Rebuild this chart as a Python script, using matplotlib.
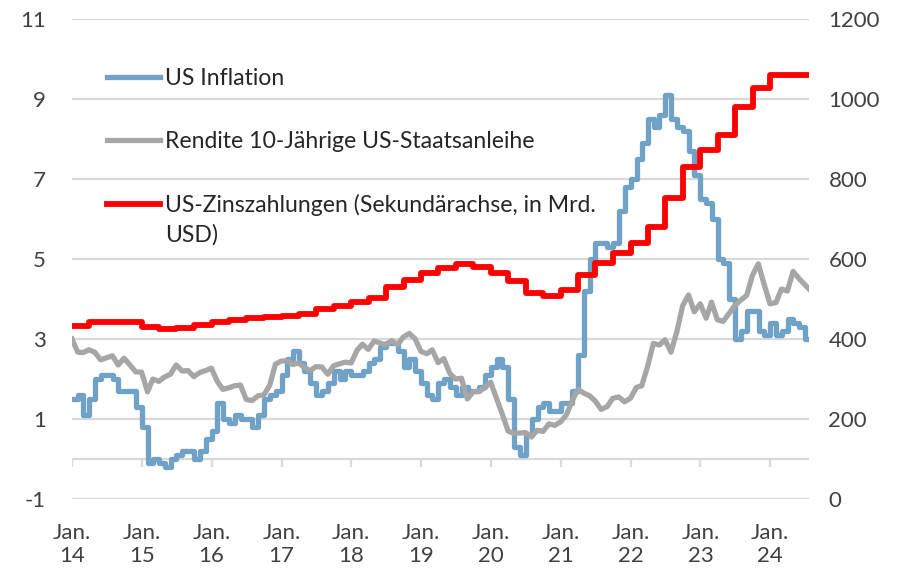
import numpy as np
import pandas as pd
import matplotlib
matplotlib.use("Agg")
import matplotlib.pyplot as plt

_TEXT = "#404040"
_GRID = "#d9d9d9"
_BLUE = "#6fa2c6"
_GRAY = "#a6a6a6"
_RED = "#ff0000"

plt.rcParams["font.family"] = ["Lato", "DejaVu Sans"]
plt.rcParams["axes.unicode_minus"] = False

# US-Inflation (% ggü. Vorjahr), monatlich, ab Jan. 2014 (Veröffentlichungsmonat)
inflation = [
    1.5, 1.6, 1.1, 1.5, 2.0, 2.1, 2.1, 2.0, 1.7, 1.7, 1.7, 1.3,
    0.8, -0.1, 0.0, -0.1, -0.2, 0.0, 0.1, 0.2, 0.2, 0.0, 0.2, 0.5,
    0.7, 1.4, 1.0, 0.9, 1.1, 1.0, 1.0, 0.8, 1.1, 1.5, 1.6, 1.7,
    2.1, 2.5, 2.7, 2.4, 2.2, 1.9, 1.6, 1.7, 1.9, 2.2, 2.0, 2.2,
    2.1, 2.1, 2.2, 2.4, 2.5, 2.8, 2.9, 2.9, 2.7, 2.3, 2.5, 2.2,
    1.9, 1.6, 1.5, 1.9, 2.0, 1.8, 1.6, 1.8, 1.7, 1.7, 1.8, 2.1,
    2.3, 2.5, 2.3, 1.5, 0.3, 0.1, 0.6, 1.0, 1.3, 1.4, 1.2, 1.2,
    1.4, 1.4, 1.7, 2.6, 4.2, 5.0, 5.4, 5.4, 5.3, 5.4, 6.2, 6.8,
    7.0, 7.5, 7.9, 8.5, 8.3, 8.6, 9.1, 8.5, 8.3, 8.2, 7.7, 7.1,
    6.5, 6.4, 6.0, 5.0, 4.9, 4.0, 3.0, 3.2, 3.7, 3.7, 3.2, 3.1,
    3.4, 3.1, 3.2, 3.5, 3.4, 3.3, 3.0,
]

# Rendite 10-jährige US-Staatsanleihe (%), Monatsende
yield10 = [
    3.00,
    2.67, 2.66, 2.73, 2.67, 2.48, 2.53, 2.58, 2.35, 2.52, 2.35, 2.18, 2.17,
    1.68, 2.00, 1.94, 2.05, 2.12, 2.35, 2.20, 2.21, 2.06, 2.16, 2.21, 2.27,
    1.94, 1.74, 1.78, 1.83, 1.85, 1.49, 1.46, 1.58, 1.60, 1.84, 2.37, 2.45,
    2.45, 2.36, 2.40, 2.29, 2.21, 2.31, 2.30, 2.12, 2.33, 2.38, 2.42, 2.40,
    2.72, 2.87, 2.74, 2.95, 2.90, 2.85, 2.96, 2.86, 3.05, 3.14, 3.01, 2.69,
    2.63, 2.73, 2.41, 2.51, 2.14, 2.00, 2.02, 1.50, 1.68, 1.69, 1.78, 1.92,
    1.51, 1.13, 0.70, 0.64, 0.65, 0.66, 0.55, 0.72, 0.69, 0.88, 0.84, 0.93,
    1.11, 1.44, 1.74, 1.65, 1.58, 1.45, 1.24, 1.31, 1.52, 1.55, 1.43, 1.52,
    1.79, 1.83, 2.32, 2.89, 2.85, 2.98, 2.67, 3.19, 3.83, 4.10, 3.68, 3.88,
    3.52, 3.92, 3.48, 3.44, 3.64, 3.84, 3.97, 4.09, 4.59, 4.88, 4.37, 3.88,
    3.91, 4.25, 4.20, 4.69, 4.51, 4.36, 4.25,
]

# US-Zinszahlungen (Mrd. USD, Sekundärachse), quartalsweise ab Q1 2014
interest = [
    432, 442, 442, 442,
    430, 425, 428, 434,
    443, 448, 452, 455,
    457, 462, 474, 482,
    492, 502, 530, 547,
    566, 577, 587, 579,
    564, 546, 516, 507,
    522, 560, 589, 614,
    639, 681, 752, 831,
    872, 910, 981, 1027,
    1060, 1060, 1060,
]

end_date = pd.Timestamp("2024-07-22")
infl_dates = list(pd.date_range("2014-01-01", periods=len(inflation), freq="MS")) + [end_date]
infl_vals = inflation + [inflation[-1]]
yld_dates = [pd.Timestamp("2014-01-01")] + list(pd.date_range("2014-01-31", periods=len(yield10) - 2, freq="ME")) + [end_date]
int_dates = list(pd.date_range("2014-01-01", periods=len(interest), freq="QS")) + [end_date]
int_vals = interest + [interest[-1]]

year_ticks = pd.date_range("2014-01-01", "2024-01-01", freq="YS")
year_labels = [f"Jan.\n{d.year % 100:02d}" for d in year_ticks]

W, H = 902, 573
fig = plt.figure(figsize=(W / 100, H / 100), dpi=100)
ax = fig.add_axes([72 / W, 1 - 499 / H, 737 / W, 480 / H])
ax2 = ax.twinx()

ax.set_ylim(-1, 11)
ax.set_yticks(np.arange(-1, 12, 2))
ax2.set_ylim(0, 1200)
ax2.set_yticks(np.arange(0, 1201, 200))
ax.set_xlim(pd.Timestamp("2014-01-01"), end_date)

ax.grid(True, axis="y", color=_GRID, linewidth=1.6)
ax.set_axisbelow(True)
for a in (ax, ax2):
    for s in a.spines.values():
        s.set_visible(False)

# x-axis line at 0 with Jan. tick marks
ax.axhline(0, color=_GRID, linewidth=1.6, zorder=1)
ax.vlines(year_ticks, -0.2, 0, color=_GRID, linewidth=1.6, zorder=1)

ax.plot(infl_dates, infl_vals, drawstyle="steps-post", color=_BLUE, linewidth=3.8,
        label="US Inflation", zorder=3)
ax.plot(yld_dates, yield10, color=_GRAY, linewidth=3.8,
        label="Rendite 10-Jährige US-Staatsanleihe", zorder=4)
ax2.plot(int_dates, int_vals, drawstyle="steps-post", color=_RED, linewidth=4.2,
         label="US-Zinszahlungen (Sekundärachse, in Mrd.")

ax.set_xticks(year_ticks)
ax.set_xticklabels(year_labels)
ax.tick_params(axis="x", length=0, pad=17, labelsize=16, labelcolor=_TEXT)
ax.tick_params(axis="y", length=0, pad=19, labelsize=16, labelcolor=_TEXT)
ax2.tick_params(axis="y", length=0, pad=14, labelsize=16, labelcolor=_TEXT)

handles = ax.get_lines()[-2:] + ax2.get_lines()
leg = ax.legend(handles=handles, loc="upper left", bbox_to_anchor=(0.047, 0.898),
                frameon=False, fontsize=16.6, handlelength=2.3, handletextpad=0.22,
                labelspacing=1.82, borderpad=0, borderaxespad=0)
leg.set_zorder(5)
for t in leg.get_texts():
    t.set_color("#262626")

fig.canvas.draw()
bb = leg.get_texts()[2].get_window_extent()
fig.text(bb.x0 / W, (bb.y0 - 30) / H, "USD)", fontsize=16.6, color="#262626",
         ha="left", va="bottom")

fig.savefig("out.png", dpi=100)
